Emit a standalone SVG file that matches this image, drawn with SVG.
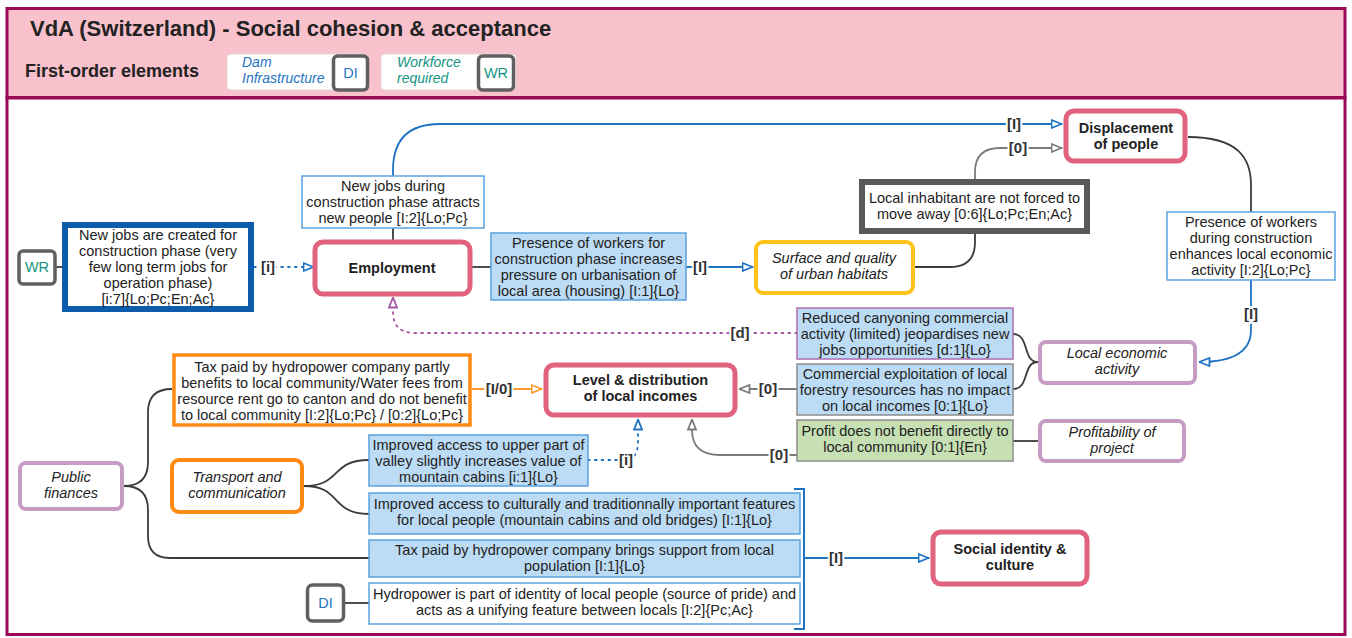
<svg xmlns="http://www.w3.org/2000/svg" width="1352" height="638" viewBox="0 0 1352 638">
  <style>
    text { font-family: "Liberation Sans", Arial, sans-serif; fill: #222; }
    .t { font-size: 14.5px; text-anchor: middle; }
    .it { font-size: 14.5px; text-anchor: middle; font-style: italic; }
    .b { font-size: 14.5px; text-anchor: middle; font-weight: bold; }
    .lbl { font-size: 15px; font-weight: bold; text-anchor: middle; fill: #333; paint-order: stroke; stroke: #fff; stroke-width: 4px; }
    .key { fill: #fff; stroke: #606060; stroke-width: 3.5; }
    .core { fill: #fff; stroke: #e0627f; stroke-width: 5; }
    .yel { fill: #fff; stroke: #ffc21a; stroke-width: 4; }
    .pur { fill: #fff; stroke: #c69cc4; stroke-width: 4; }
    .ora { fill: #fff; stroke: #ff8a12; stroke-width: 4; }
    .lb { fill: #bcdcf5; stroke: #5aa2de; stroke-width: 1.5; }
    .wb { fill: #fff; stroke: #5aa2de; stroke-width: 1.5; }
    .c { fill: none; stroke-width: 1.8; }
    .dark { stroke: #3a3a3a; }
    .blue { stroke: #1e72c2; }
    .grey { stroke: #7a7a7a; }
    .orange { stroke: #ff9a30; }
    .purple { stroke: #a455a0; }
    .dot { stroke-dasharray: 1.8 5; stroke-linecap: round; }
  </style>
  <defs>
    <marker id="ah-blue" viewBox="0 0 12 10" refX="11.5" refY="5" markerWidth="12" markerHeight="10" markerUnits="userSpaceOnUse" orient="auto">
      <path d="M1,1 L11,5 L1,9 Z" fill="#fff" stroke="#1e72c2" stroke-width="1.8"/>
    </marker>
    <marker id="ah-grey" viewBox="0 0 12 10" refX="11.5" refY="5" markerWidth="12" markerHeight="10" markerUnits="userSpaceOnUse" orient="auto">
      <path d="M1,1 L11,5 L1,9 Z" fill="#fff" stroke="#7a7a7a" stroke-width="1.8"/>
    </marker>
    <marker id="ah-orange" viewBox="0 0 12 10" refX="11.5" refY="5" markerWidth="12" markerHeight="10" markerUnits="userSpaceOnUse" orient="auto">
      <path d="M1,1 L11,5 L1,9 Z" fill="#fff" stroke="#ff9a30" stroke-width="1.8"/>
    </marker>
    <marker id="ah-purple" viewBox="0 0 12 10" refX="11.5" refY="5" markerWidth="12" markerHeight="10" markerUnits="userSpaceOnUse" orient="auto">
      <path d="M1,1 L11,5 L1,9 Z" fill="#fff" stroke="#a455a0" stroke-width="1.8"/>
    </marker>
  </defs>

  <!-- header band -->
  <g id="header">
    <rect x="7" y="8.5" width="1338" height="89" fill="#f8c1cb" stroke="#9b0a55" stroke-width="3"/>
    <text x="30" y="36" style="font-size:22px;font-weight:bold;">VdA (Switzerland) - Social cohesion &amp; acceptance</text>
    <text x="25" y="77" style="font-size:18px;font-weight:bold;">First-order elements</text>
    <g id="legend-di">
      <rect x="227" y="54" width="141" height="36" rx="4" fill="#fff" stroke="#e2d6d8" stroke-width="1"/>
      <text x="242" y="67" style="font-size:14px;font-style:italic;fill:#1f74c4;">Dam</text>
      <text x="242" y="83" style="font-size:14px;font-style:italic;fill:#1f74c4;">Infrastructure</text>
      <rect x="333.5" y="56" width="34" height="34" rx="4" class="key"/>
      <text x="350.5" y="78" class="t" style="fill:#1f74c4;">DI</text>
    </g>
    <g id="legend-wr">
      <rect x="381" y="54" width="135" height="36" rx="4" fill="#fff" stroke="#e2d6d8" stroke-width="1"/>
      <text x="397" y="67" style="font-size:14px;font-style:italic;fill:#13947f;">Workforce</text>
      <text x="397" y="83" style="font-size:14px;font-style:italic;fill:#13947f;">required</text>
      <rect x="478.5" y="56" width="35" height="34" rx="4" class="key"/>
      <text x="496" y="78" class="t" style="fill:#13947f;">WR</text>
    </g>
  </g>

  <!-- main frame -->
  <rect x="7" y="98" width="1338" height="536.5" fill="#fff" stroke="#9b0a55" stroke-width="3"/>

  <!-- connectors -->
  <g id="connectors">
    <path class="c dark" d="M55,267 L63,267"/>
    <path class="c blue dot" d="M254,267 L314,267" marker-end="url(#ah-blue)"/>
    <path class="c dark" d="M393,240 L393,228"/>
    <path class="c blue" d="M393,176 L393,170 Q393,124 440,124 L1062,124" marker-end="url(#ah-blue)"/>
    <path class="c dark" d="M472,267 L491,267"/>
    <path class="c blue" d="M686,267 L753,267" marker-end="url(#ah-blue)"/>
    <path class="c dark" d="M915,267 L950,267 Q975,267 975,242 L975,234"/>
    <path class="c grey" d="M975,179 L975,172 Q975,148 1000,148 L1062,148" marker-end="url(#ah-grey)"/>
    <path class="c dark" d="M1188,137 C1238,137 1251,158 1251,185 L1251,212"/>
    <path class="c blue" d="M1251,280 L1251,330 Q1251,362 1199,362" marker-end="url(#ah-blue)"/>
    <path class="c dark" d="M1038,362 C1022,362 1030,334 1013,334"/>
    <path class="c dark" d="M1038,362 C1022,362 1030,389 1013,389"/>
    <path class="c purple dot" d="M797,333 L415,333 Q393,333 393,312 L393,297" marker-end="url(#ah-purple)"/>
    <path class="c grey" d="M797,389 L739,389" marker-end="url(#ah-grey)"/>
    <path class="c grey" d="M797,455 L720,455 Q692,455 692,430 L692,419" marker-end="url(#ah-grey)"/>
    <path class="c dark" d="M1038,441 L1013,441"/>
    <path class="c blue dot" d="M588,460 L624,460 Q638,460 638,442 L638,419" marker-end="url(#ah-blue)"/>
    <path class="c orange" d="M472,389 L542,389" marker-end="url(#ah-orange)"/>
    <path class="c dark" d="M124,486 Q148,486 148,462 L148,412 Q148,389 172,389"/>
    <path class="c dark" d="M124,486 Q148,486 148,510 L148,536 Q148,558 170,558 L369,558"/>
    <path class="c dark" d="M304,486 C342,486 330,460 369,460"/>
    <path class="c dark" d="M304,486 C342,486 330,514 369,514"/>
    <path class="c dark" d="M344,603 L369,603"/>
    <path fill="none" stroke="#1e72c2" stroke-width="2" d="M794,489 L804,489 L804,629 L794,629"/>
    <path class="c blue" d="M804,558 L929,558" marker-end="url(#ah-blue)"/>
    <text class="lbl" x="268" y="272">[i]</text>
    <text class="lbl" x="1014" y="129">[I]</text>
    <text class="lbl" x="700" y="272">[I]</text>
    <text class="lbl" x="1018" y="153">[0]</text>
    <text class="lbl" x="1251" y="319">[I]</text>
    <text class="lbl" x="740" y="338">[d]</text>
    <text class="lbl" x="768" y="394">[0]</text>
    <text class="lbl" x="779" y="460">[0]</text>
    <text class="lbl" x="626" y="465">[i]</text>
    <text class="lbl" x="499" y="394">[I/0]</text>
    <text class="lbl" x="836" y="563">[I]</text>
  </g>

  <!-- nodes -->
  <g id="wr-key">
    <rect x="19" y="251" width="36" height="33" rx="4" class="key"/>
    <text x="37" y="272" class="t" style="fill:#13947f;">WR</text>
  </g>
  <g id="new-jobs-created">
    <rect x="65" y="225" width="186" height="84" fill="#fff" stroke="#0b5cad" stroke-width="6"/>
    <text class="t"><tspan x="158" y="240">New jobs are created for</tspan><tspan x="158" y="256">construction phase (very</tspan><tspan x="158" y="272">few long term jobs for</tspan><tspan x="158" y="288">operation phase)</tspan><tspan x="158" y="304">[i:7]{Lo;Pc;En;Ac}</tspan></text>
  </g>
  <g id="new-jobs-attract">
    <rect x="302" y="176" width="182" height="52" class="wb"/>
    <text class="t"><tspan x="393" y="191">New jobs during</tspan><tspan x="393" y="207">construction phase attracts</tspan><tspan x="393" y="223">new people [I:2]{Lo;Pc}</tspan></text>
  </g>
  <g id="employment">
    <rect x="315" y="242" width="155" height="52" rx="8" class="core"/>
    <text x="392" y="273" class="b">Employment</text>
  </g>
  <g id="housing-pressure">
    <rect x="491" y="233" width="195" height="67" class="lb"/>
    <text class="t"><tspan x="588.5" y="248">Presence of workers for</tspan><tspan x="588.5" y="264">construction phase increases</tspan><tspan x="588.5" y="280">pressure on urbanisation of</tspan><tspan x="588.5" y="296">local area (housing) [I:1]{Lo}</tspan></text>
  </g>
  <g id="urban-habitats">
    <rect x="756" y="242" width="157" height="51" rx="7" class="yel"/>
    <text class="it"><tspan x="834" y="263">Surface and quality</tspan><tspan x="834" y="279">of urban habitats</tspan></text>
  </g>
  <g id="not-forced">
    <rect x="862" y="182" width="225" height="49" fill="#fff" stroke="#595959" stroke-width="6"/>
    <text class="t"><tspan x="974.5" y="203">Local inhabitant are not forced to</tspan><tspan x="974.5" y="219">move away [0:6]{Lo;Pc;En;Ac}</tspan></text>
  </g>
  <g id="displacement">
    <rect x="1066" y="111" width="119" height="50" rx="8" class="core"/>
    <text class="b"><tspan x="1126" y="133">Displacement</tspan><tspan x="1126" y="149">of people</tspan></text>
  </g>
  <g id="workers-economy">
    <rect x="1167" y="212" width="168" height="68" class="wb"/>
    <text class="t"><tspan x="1251" y="227">Presence of workers</tspan><tspan x="1251" y="243">during construction</tspan><tspan x="1251" y="259">enhances local economic</tspan><tspan x="1251" y="275">activity [I:2]{Lo;Pc}</tspan></text>
  </g>
  <g id="local-economic-activity">
    <rect x="1040" y="342" width="155" height="41" rx="6" class="pur"/>
    <text class="it"><tspan x="1117" y="358">Local economic</tspan><tspan x="1117" y="374">activity</tspan></text>
  </g>
  <g id="canyoning">
    <rect x="797" y="308" width="216" height="51" fill="#bcdcf5" stroke="#b06cb0" stroke-width="1.5"/>
    <text class="t"><tspan x="905" y="323">Reduced canyoning commercial</tspan><tspan x="905" y="339">activity (limited) jeopardises new</tspan><tspan x="905" y="355">jobs opportunities [d:1]{Lo}</tspan></text>
  </g>
  <g id="forestry">
    <rect x="797" y="364" width="216" height="51" fill="#bcdcf5" stroke="#8c8c8c" stroke-width="1.5"/>
    <text class="t"><tspan x="905" y="379">Commercial exploitation of local</tspan><tspan x="905" y="395">forestry resources has no impact</tspan><tspan x="905" y="411">on local incomes [0:1]{Lo}</tspan></text>
  </g>
  <g id="profit">
    <rect x="797" y="420" width="216" height="41" fill="#c6e0b4" stroke="#8c8c8c" stroke-width="1.5"/>
    <text class="t"><tspan x="905" y="436">Profit does not benefit directly to</tspan><tspan x="905" y="452">local community [0:1]{En}</tspan></text>
  </g>
  <g id="profitability">
    <rect x="1040" y="421" width="144" height="40" rx="6" class="pur"/>
    <text class="it"><tspan x="1112" y="437">Profitability of</tspan><tspan x="1112" y="453">project</tspan></text>
  </g>
  <g id="local-incomes">
    <rect x="546" y="365" width="189" height="50" rx="8" class="core"/>
    <text class="b"><tspan x="640.5" y="385">Level &amp; distribution</tspan><tspan x="640.5" y="401">of local incomes</tspan></text>
  </g>
  <g id="tax-partly">
    <rect x="174" y="355" width="296" height="70" fill="#fff" stroke="#ff8a12" stroke-width="3.5"/>
    <text class="t"><tspan x="322" y="372">Tax paid by hydropower company partly</tspan><tspan x="322" y="388">benefits to local community/Water fees from</tspan><tspan x="322" y="404">resource rent go to canton and do not benefit</tspan><tspan x="322" y="420">to local community [I:2]{Lo;Pc} / [0:2]{Lo;Pc}</tspan></text>
  </g>
  <g id="public-finances">
    <rect x="20" y="463" width="102" height="46" rx="6" class="pur"/>
    <text class="it"><tspan x="71" y="482">Public</tspan><tspan x="71" y="498">finances</tspan></text>
  </g>
  <g id="transport">
    <rect x="172" y="460" width="130" height="52" rx="7" class="ora"/>
    <text class="it"><tspan x="237" y="482">Transport and</tspan><tspan x="237" y="498">communication</tspan></text>
  </g>
  <g id="upper-valley">
    <rect x="369" y="435" width="219" height="51" class="lb"/>
    <text class="t"><tspan x="478.5" y="450">Improved access to upper part of</tspan><tspan x="478.5" y="466">valley slightly increases value of</tspan><tspan x="478.5" y="482">mountain cabins [i:1]{Lo}</tspan></text>
  </g>
  <g id="cultural-features">
    <rect x="369" y="493" width="431" height="41" class="lb"/>
    <text class="t"><tspan x="584.5" y="509">Improved access to culturally and traditionnally important features</tspan><tspan x="584.5" y="525">for local people (mountain cabins and old bridges) [I:1]{Lo}</tspan></text>
  </g>
  <g id="tax-support">
    <rect x="369" y="540" width="431" height="37" class="lb"/>
    <text class="t"><tspan x="584.5" y="555">Tax paid by hydropower company brings support from local</tspan><tspan x="584.5" y="571">population [I:1]{Lo}</tspan></text>
  </g>
  <g id="identity-pride">
    <rect x="369" y="583" width="431" height="41" class="wb"/>
    <text class="t"><tspan x="584.5" y="599">Hydropower is part of identity of local people (source of pride) and</tspan><tspan x="584.5" y="615">acts as a unifying feature between locals [I:2]{Pc;Ac}</tspan></text>
  </g>
  <g id="di-key">
    <rect x="307.5" y="585" width="36" height="36" rx="5" class="key"/>
    <text x="325.5" y="608" class="t" style="fill:#1f74c4;">DI</text>
  </g>
  <g id="social-identity">
    <rect x="933" y="532" width="154" height="52" rx="8" class="core"/>
    <text class="b"><tspan x="1010" y="554">Social identity &amp;</tspan><tspan x="1010" y="570">culture</tspan></text>
  </g>
</svg>
